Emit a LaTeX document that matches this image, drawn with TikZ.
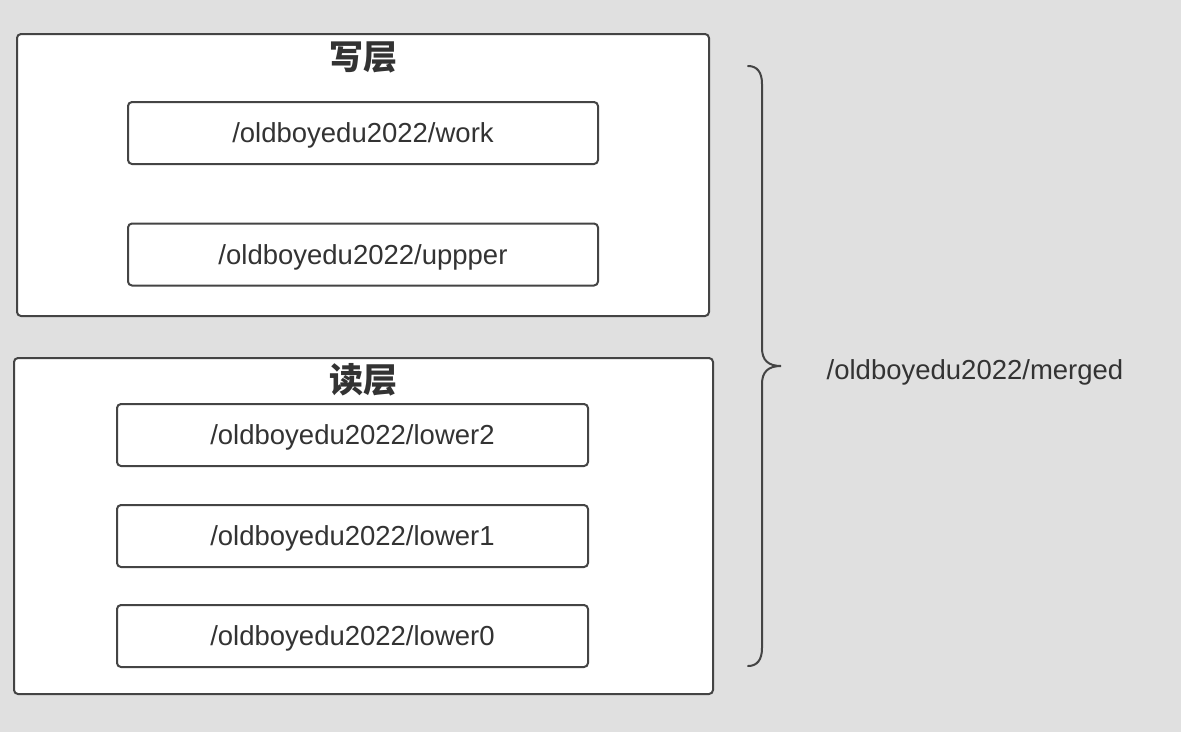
\documentclass[tikz,border=0pt]{standalone}
\usepackage{fontspec}
\setmainfont{Liberation Sans}
\newfontfamily\cjk{Noto Sans CJK SC}
\definecolor{bg}{HTML}{E0E0E0}
\definecolor{ln}{HTML}{444444}
\definecolor{tx}{HTML}{333333}
\begin{document}
\begin{tikzpicture}[x=1pt,y=-1pt,
  layer/.style={draw=ln,line width=2pt,fill=white,rounded corners=4pt},
  dir/.style={draw=ln,line width=2pt,fill=white,rounded corners=4pt,minimum width=470pt,minimum height=62pt,text=tx,font=\fontsize{27.5}{30}\selectfont,inner sep=0pt,text depth=0pt},
  title/.style={text=tx,font=\cjk\bfseries\fontsize{34}{36}\selectfont,inner sep=0pt}]
\fill[bg] (0,0) rectangle (1181,732);
\useasboundingbox (0,0) rectangle (1181,732);
% write layer
\draw[layer] (17,34) rectangle (709,316);
\node[title] (wt) at (363,57) {写层};
\node[dir] (work) at (363,133) {/oldboyedu2022/work};
\node[dir] (upper) at (363,254.5) {/oldboyedu2022/uppper};
% read layer
\draw[layer] (14,358) rectangle (713,694);
\node[title] (rt) at (363,380) {读层};
\node[dir,minimum width=471pt] (l2) at (352.5,435) {/oldboyedu2022/lower2};
\node[dir,minimum width=471pt] (l1) at (352.5,536) {/oldboyedu2022/lower1};
\node[dir,minimum width=471pt] (l0) at (352.5,636) {/oldboyedu2022/lower0};
% brace
\coordinate (bt) at (748,66);
\coordinate (bm) at (781,366);
\coordinate (bb) at (748,666);
\draw[ln,line width=2pt,line cap=round]
  (bt) .. controls (757,66) and (762,72) .. (762,84)
  -- (762,348) .. controls (762,360) and (768,366) .. (bm)
  .. controls (768,366) and (762,372) .. (762,384)
  -- (762,648) .. controls (762,660) and (757,666) .. (bb);
\node[text=tx,font=\fontsize{27.5}{30}\selectfont,inner sep=0pt,text depth=0pt] (merged) at (975,370) {/oldboyedu2022/merged};
\end{tikzpicture}
\end{document}
